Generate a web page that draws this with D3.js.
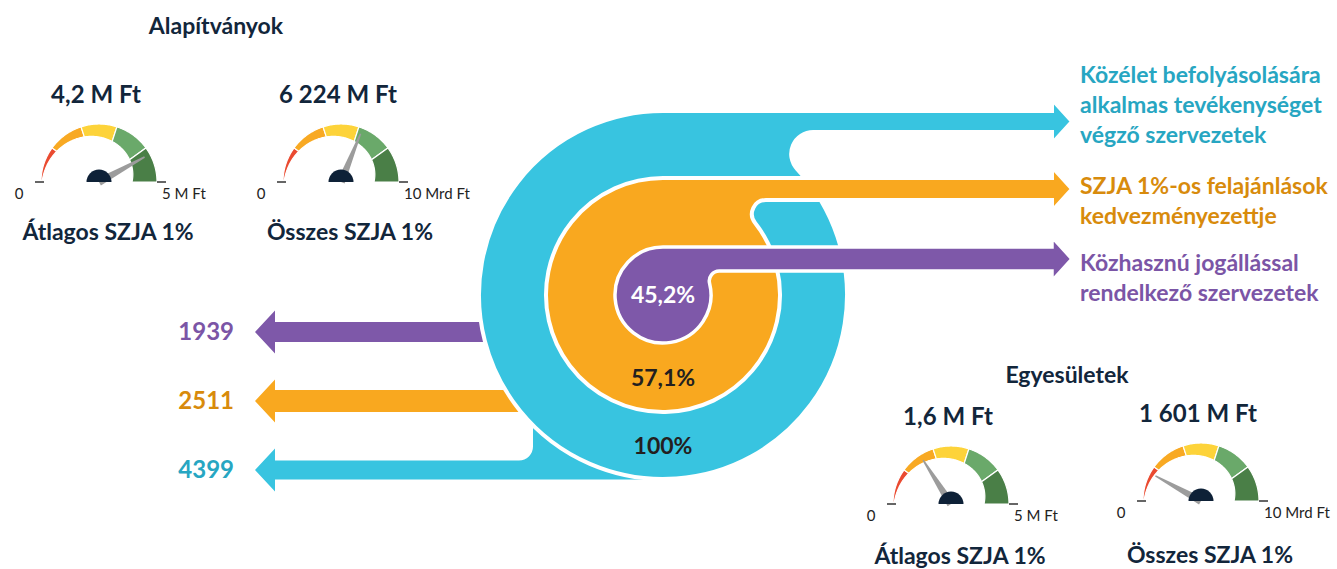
<!DOCTYPE html>
<html>
<head>
<meta charset="utf-8">
<script src="https://cdn.jsdelivr.net/npm/d3@7"></script>
<style>
  body { margin: 0; background: #fff; }
  text { font-family: Lato, 'Open Sans', sans-serif; }
</style>
</head>
<body>
<svg id="chart"></svg>
<script>
// data
const groupLabels = [
  ['Közélet befolyásolására', 'alkalmas tevékenységet', 'végző szervezetek'],
  ['SZJA 1%-os felajánlások', 'kedvezményezettje'],
  ['Közhasznú jogállással', 'rendelkező szervezetek']
];
const groupCounts = [4399, 2511, 1939];
const groupShares = [100, 57.1, 45.2];
const sectionTitles = ['Alapítványok', 'Egyesületek'];
const gaugeTitles = ['Átlagos SZJA 1%', 'Összes SZJA 1%', 'Átlagos SZJA 1%', 'Összes SZJA 1%'];
const gaugeValues = [4.2, 6224, 1.6, 1601];      // M Ft
const gaugeMax = [5, 10000, 5, 10000];
const gaugeMaxLabels = ['5 M Ft', '10 Mrd Ft', '5 M Ft', '10 Mrd Ft'];
const gaugeBandCount = 5;

// layout
const W = 1337, H = 569;
const colors = ['#38c4e0', '#f9a81f', '#7e58a9'];
const textColors = ['#27a6c2', '#d88b0c', '#7b55a6'];
const bandColors = ['#ea4a30', '#f8a923', '#fdd33a', '#6aa96a', '#4a7f47'];
const navy = '#12263b';
const C = { x: 663, y: 295 };
const ringR = [184, 117, 48];
const barH = [21, 22, 24];
const fillet = [22, 14, 10];
const arrowBack = 1052, arrowTip = 1072, headHalf = 22;
const leftMid = [470, 401, 332], leftH = [19, 22, 20];
const gaugeLayout = [
  { cx: 99, cy: 182, ty: 240 },
  { cx: 341, cy: 182, ty: 240 },
  { cx: 951, cy: 504, ty: 564 },
  { cx: 1201, cy: 501, ty: 563 }
];
const gR = 58, gThick = 25;

const hu = d3.formatLocale({ decimal: ',', thousands: ' ', grouping: [3], currency: ['', ' Ft'] });
const fmt = hu.format(',.1~f');

const svg = d3.select('#chart').attr('width', W).attr('height', H);
svg.append('rect').attr('width', W).attr('height', H).attr('fill', '#fff');

// right arm: disk + bar tangent on top, fillet under the bar
function arm(R, h, f) {
  const top = C.y - R, bot = top + h, mid = top + h / 2;
  const py = bot + f, d = R + f;
  const px = C.x + Math.sqrt(d * d - (py - C.y) ** 2);
  const tx = C.x + (px - C.x) * R / d, ty = C.y + (py - C.y) * R / d;
  const p = d3.path();
  p.moveTo(C.x, top);
  p.lineTo(arrowBack, top);
  p.lineTo(arrowBack, mid - headHalf);
  p.lineTo(arrowTip, mid);
  p.lineTo(arrowBack, mid + headHalf);
  p.lineTo(arrowBack, bot);
  p.lineTo(px, bot);
  p.arc(px, py, f, -Math.PI / 2, Math.atan2(ty - py, tx - px), true);
  p.arc(C.x, C.y, R, Math.atan2(ty - C.y, tx - C.x), -Math.PI / 2, false);
  p.closePath();
  return p.toString();
}

function leftArrow(i) {
  const mid = leftMid[i], h = leftH[i], tip = 255, back = 275, hh = 21.5;
  const top = mid - h / 2, bot = mid + h / 2;
  const p = d3.path();
  p.moveTo(tip, mid);
  p.lineTo(back, mid - hh);
  p.lineTo(back, top);
  if (i === 0) {
    // tab rising into the outer disk
    const x0 = 533, r = 14;
    p.lineTo(x0 - r, top);
    p.arc(x0 - r, top - r, r, Math.PI / 2, 0, true);
    p.lineTo(x0, 415);
    p.lineTo(C.x, 415);
  } else {
    p.lineTo(C.x, top);
  }
  p.lineTo(C.x, bot);
  p.lineTo(back, bot);
  p.lineTo(back, mid + hh);
  p.closePath();
  return p.toString();
}

const flow = svg.append('g');
flow.selectAll('path.left').data(groupCounts).join('path')
  .attr('class', 'left')
  .attr('d', (d, i) => leftArrow(i))
  .attr('fill', (d, i) => colors[i]);

flow.selectAll('path.arm').data(groupShares).join('path')
  .attr('class', 'arm')
  .attr('d', (d, i) => arm(ringR[i], barH[i], fillet[i]))
  .attr('fill', (d, i) => colors[i])
  .attr('stroke', '#fff')
  .attr('stroke-width', (d, i) => i === 2 ? 3.5 : 4);

// shares inside the rings
flow.selectAll('text.share').data(groupShares).join('text')
  .attr('class', 'share')
  .attr('x', C.x)
  .attr('y', (d, i) => (i === 2 ? C.y : C.y + (ringR[i] + ringR[i + 1]) / 2) + 8)
  .attr('text-anchor', 'middle')
  .attr('font-size', 23).attr('font-weight', 700)
  .attr('fill', (d, i) => i === 2 ? '#fff' : '#231f20')
  .text(d => fmt(d) + '%');

// counts on the left
svg.selectAll('text.count').data(groupCounts).join('text')
  .attr('class', 'count')
  .attr('x', 234).attr('y', (d, i) => leftMid[i] + 8)
  .attr('text-anchor', 'end')
  .attr('font-size', 24).attr('font-weight', 700)
  .attr('fill', (d, i) => textColors[i])
  .text(d => d);

// group labels on the right
const labelTop = [83, 194, 271];
groupLabels.forEach((lines, i) => {
  svg.append('text')
    .attr('x', 1080).attr('y', labelTop[i])
    .attr('font-size', 23).attr('font-weight', 700)
    .attr('fill', textColors[i])
    .selectAll('tspan').data(lines).join('tspan')
    .attr('x', 1080).attr('dy', (d, k) => k ? 30 : 0)
    .text(d => d);
});

// section titles
svg.append('text').attr('x', 216).attr('y', 34).attr('text-anchor', 'middle')
  .attr('font-size', 23).attr('font-weight', 700).attr('fill', navy).text(sectionTitles[0]);
svg.append('text').attr('x', 1067).attr('y', 383).attr('text-anchor', 'middle')
  .attr('font-size', 23).attr('font-weight', 700).attr('fill', navy).text(sectionTitles[1]);

// gauges
gaugeValues.forEach((v, i) => {
  const L = gaugeLayout[i];
  const g = svg.append('g').attr('transform', `translate(${L.cx},${L.cy})`);
  const angle = d3.scaleLinear().domain([0, gaugeMax[i]]).range([-Math.PI / 2, Math.PI / 2]);
  const thick = d3.scaleLinear().domain([0, gaugeMax[i]]).range([1, gThick]);
  const step = gaugeMax[i] / gaugeBandCount;
  const band = d3.areaRadial()
    .angle(d => angle(d))
    .outerRadius(gR)
    .innerRadius(d => gR - thick(d));

  d3.range(gaugeBandCount).forEach(b => {
    const pts = d3.range(41).map(k => step * b + step * k / 40);
    g.append('path').attr('d', band(pts))
      .attr('fill', bandColors[b])
      .attr('stroke', '#fff').attr('stroke-width', 1.2);
  });

  // end ticks
  g.append('line').attr('x1', -gR - 6).attr('x2', -gR + 3).attr('y1', 0).attr('y2', 0)
    .attr('stroke', '#333').attr('stroke-width', 1.5);
  g.append('line').attr('x1', gR).attr('x2', gR + 9).attr('y1', 0).attr('y2', 0)
    .attr('stroke', '#333').attr('stroke-width', 1.5);

  // needle
  const a = angle(v);
  const pt = (r, off) => [r * Math.sin(a + off), -r * Math.cos(a + off)];
  const nb = 4, nl = 52;
  const needle = [
    [nb * Math.cos(a), nb * Math.sin(a)],
    pt(nl, 0.015),
    pt(nl, -0.015),
    [-nb * Math.cos(a), -nb * Math.sin(a)]
  ];
  g.append('path').attr('d', d3.line()(needle) + 'Z').attr('fill', '#9c9c9c');

  // hub
  g.append('path')
    .attr('d', d3.arc()({ innerRadius: 0, outerRadius: 12.5, startAngle: -Math.PI / 2, endAngle: Math.PI / 2 }))
    .attr('fill', '#0e2137');

  g.append('text').attr('x', -gR - 22).attr('y', 17).attr('text-anchor', 'middle')
    .attr('font-size', 15).attr('fill', '#222').text('0');
  g.append('text').attr('x', gR + 5).attr('y', 17)
    .attr('font-size', 15).attr('fill', '#222').text(gaugeMaxLabels[i]);

  g.append('text').attr('x', -3).attr('y', -79).attr('text-anchor', 'middle')
    .attr('font-size', 24).attr('font-weight', 700).attr('fill', navy)
    .text(fmt(v) + ' M Ft');
  g.append('text').attr('x', 9).attr('y', L.ty - L.cy).attr('text-anchor', 'middle')
    .attr('font-size', 23).attr('font-weight', 700).attr('fill', navy)
    .text(gaugeTitles[i]);
});
</script>
</body>
</html>
